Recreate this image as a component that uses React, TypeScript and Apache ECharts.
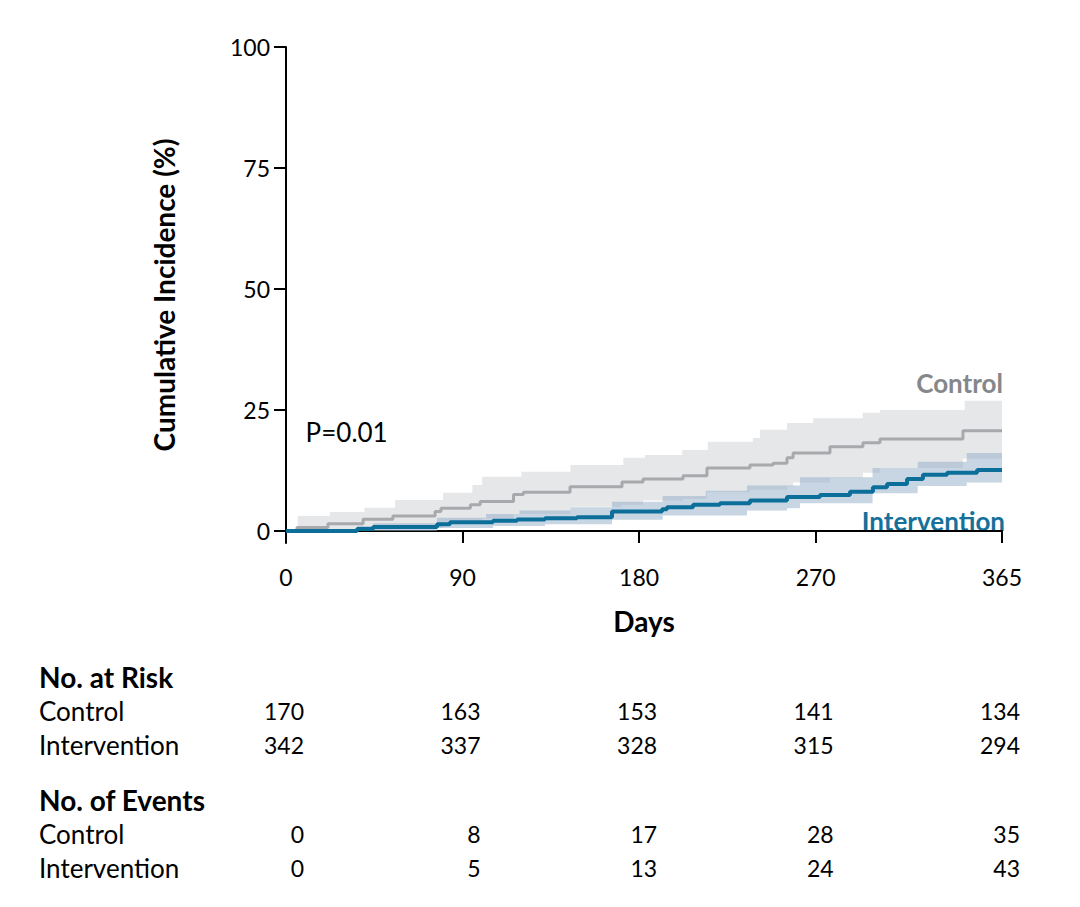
import { useEffect, useRef } from 'react';
import * as echarts from 'echarts';

const dayTicks = [0, 90, 180, 270, 365];
const pctTicks = [0, 25, 50, 75, 100];

// step curves: [day, cumulative incidence %]
const controlLine = [
  [0, 0], [5.6, 0.7], [21.4, 1.5], [39.3, 2.4], [54.5, 3.1], [76, 4.0], [79, 4.7], [94, 5.4],
  [99, 6.1], [116, 7.5], [121, 8.0], [144.8, 9.1], [171.3, 10.1], [182, 10.7], [202.4, 11.4],
  [214.6, 13.0], [236.5, 13.6], [248.3, 14.0], [255.4, 15.1], [258.5, 16.1], [277.3, 17.4],
  [294.1, 18.2], [302.8, 19.0], [345.1, 20.7],
];
const controlUpper = [
  [0, 0], [6, 3.1], [22.4, 3.9], [40, 4.8], [55.6, 6.4], [80, 7.9], [95, 9.5], [100, 11.2],
  [120, 12.2], [145, 13.6], [172, 15.1], [183, 15.7], [202, 16.7], [215, 18.4], [238, 19.2],
  [241.6, 20.9], [255.4, 22.3], [268.7, 23.3], [294, 24.4], [302.8, 25.0], [346, 26.9],
];
const controlLower = [
  [0, 0], [40, 0.3], [54.5, 0.6], [80, 1.5], [100, 2.5], [116, 3.5], [145, 5.0], [171.3, 5.4],
  [182, 6.3], [202.4, 6.6], [214.6, 8.0], [236.5, 8.5], [255.4, 9.2], [258.5, 10.0],
  [277.3, 11.0], [294.1, 12.0], [302.8, 13.0], [345.1, 14.9],
];

const interventionLine = [
  [0, 0], [36.2, 0.4], [44.4, 0.8], [77, 1.4], [83.6, 1.8], [105.5, 2.1], [117.8, 2.35],
  [132, 2.6], [148.3, 2.8], [166.2, 4.0], [191.7, 4.5], [194.2, 4.9], [207.5, 5.4],
  [221.2, 5.7], [236.5, 6.3], [255.4, 7.0], [272.2, 7.4], [287.5, 8.1], [299.2, 9.0],
  [306.4, 9.7], [316.6, 10.7], [324.7, 11.6], [337, 12.0], [352.3, 12.6],
];
const interventionUpper = [
  [0, 0], [36.2, 1.0], [44.4, 1.6], [77, 2.7], [102, 3.5], [119, 4.2], [145, 4.9], [166.2, 6.0],
  [192, 7.2], [214, 8.3], [235, 9.4], [262, 11.1], [299, 13.0], [322, 14.3], [347, 16.1],
];
const interventionLower = [
  [0, 0], [77, 0.6], [105.5, 1.0], [132, 1.4], [166.2, 2.3], [192, 3.2], [235, 4.2],
  [255.4, 4.7], [262, 5.7], [299, 7.8], [322, 9.3], [347, 10.0],
];

const riskControl = [170, 163, 153, 141, 134];
const riskIntervention = [342, 337, 328, 315, 294];
const eventsControl = [0, 8, 17, 28, 35];
const eventsIntervention = [0, 5, 13, 24, 43];

const FONT = 'Lato, sans-serif';
const END = 365;

const stepPoints = (steps: number[][]) => {
  const pts: number[][] = [];
  steps.forEach(([d, v], i) => {
    const next = i + 1 < steps.length ? steps[i + 1][0] : END;
    pts.push([d, v], [next, v]);
  });
  return pts;
};

const bandSeries = (upper: number[][], lower: number[][], color: string) => ({
  type: 'custom',
  silent: true,
  data: upper,
  encode: { x: 0, y: 1 },
  renderItem: (params: any, api: any) => {
    if (params.dataIndex !== 0) return null;
    const pts = stepPoints(upper).concat(stepPoints(lower).reverse()).map((p) => api.coord(p));
    return { type: 'polygon', shape: { points: pts }, style: { fill: color } };
  },
  z: 1,
});

const lineSeries = (steps: number[][], color: string, width: number) => ({
  type: 'line',
  step: 'end',
  symbol: 'none',
  data: [...steps, [END, steps[steps.length - 1][1]]],
  lineStyle: { color, width, cap: 'butt' },
  z: 3,
});

const App: React.FC = () => {
  const divRef = useRef<HTMLDivElement | null>(null);

  useEffect(() => {
    document.body.style.margin = '0';
    if (!divRef.current) return;
    const chart = echarts.init(divRef.current, undefined, { renderer: 'svg' });

    chart.setOption({
      animation: false,
      grid: { left: 286, top: 47, width: 716, height: 496 },
      xAxis: {
        type: 'value',
        min: 0,
        max: END,
        name: 'Days',
        nameLocation: 'middle',
        nameGap: 64,
        nameTextStyle: { fontFamily: FONT, fontWeight: 'bold', fontSize: 28, color: '#000' },
        axisLine: { lineStyle: { color: '#000', width: 2 } },
        axisTick: { length: 12, lineStyle: { color: '#000', width: 2 }, customValues: dayTicks },
        axisLabel: { margin: 22, fontFamily: FONT, fontSize: 23, color: '#000', customValues: dayTicks },
        splitLine: { show: false },
      },
      yAxis: {
        type: 'value',
        min: -2.5,
        max: 100,
        name: 'Cumulative Incidence (%)',
        nameLocation: 'middle',
        nameGap: 108,
        nameTextStyle: { fontFamily: FONT, fontWeight: 'bold', fontSize: 28, color: '#000' },
        axisLine: { show: true, lineStyle: { color: '#000', width: 2 } },
        axisTick: { show: true, length: 12, lineStyle: { color: '#000', width: 2 }, customValues: pctTicks },
        axisLabel: { margin: 16, fontFamily: FONT, fontSize: 23, color: '#000', customValues: pctTicks },
        splitLine: { show: false },
      },
      series: [
        bandSeries(controlUpper, controlLower, '#e6e7e8'),
        bandSeries(interventionUpper, interventionLower, 'rgba(150,174,201,0.52)'),
        lineSeries(controlLine, '#a7a9ac', 3),
        lineSeries(interventionLine, '#0b6f9a', 4),
      ],
    });

    const px = (d: number, v: number) => chart.convertToPixel({ gridIndex: 0 }, [d, v]) as number[];

    const rows = [
      { label: 'No. at Risk', y: 677, bold: true },
      { label: 'Control', y: 711, values: riskControl },
      { label: 'Intervention', y: 745, values: riskIntervention },
      { label: 'No. of Events', y: 800, bold: true },
      { label: 'Control', y: 834, values: eventsControl },
      { label: 'Intervention', y: 868, values: eventsIntervention },
    ];

    const graphic: any[] = [];
    rows.forEach((r) => {
      graphic.push({
        type: 'text',
        x: 39,
        y: r.y,
        style: {
          text: r.label,
          fontFamily: FONT,
          fontSize: r.bold ? 28 : 26,
          fontWeight: r.bold ? 'bold' : 'normal',
          fill: '#000',
          verticalAlign: 'middle',
        },
      });
      (r.values || []).forEach((v, i) => {
        graphic.push({
          type: 'text',
          x: px(dayTicks[i], 0)[0] + 18,
          y: r.y,
          style: {
            text: String(v),
            fontFamily: FONT,
            fontSize: 23,
            fill: '#000',
            align: 'right',
            verticalAlign: 'middle',
          },
        });
      });
    });

    const pPos = px(10, 20.5);
    const ctrlPos = px(END, 30.5);
    const intPos = px(END, 2);
    graphic.push(
      {
        type: 'text',
        x: pPos[0],
        y: pPos[1],
        style: { text: 'P=0.01', fontFamily: FONT, fontSize: 26, fill: '#000', verticalAlign: 'middle' },
      },
      {
        type: 'text',
        x: ctrlPos[0] + 1,
        y: ctrlPos[1],
        style: {
          text: 'Control', fontFamily: FONT, fontSize: 26, fontWeight: 'bold', fill: '#85878a',
          align: 'right', verticalAlign: 'middle',
        },
      },
      {
        type: 'text',
        x: intPos[0] + 3,
        y: intPos[1],
        style: {
          text: 'Intervention', fontFamily: FONT, fontSize: 26, fontWeight: 'bold', fill: '#15719a',
          align: 'right', verticalAlign: 'middle',
        },
      },
    );

    chart.setOption({ graphic });

    return () => chart.dispose();
  }, []);

  return <div ref={divRef} style={{ width: 1080, height: 907 }} />;
};

export default App;
